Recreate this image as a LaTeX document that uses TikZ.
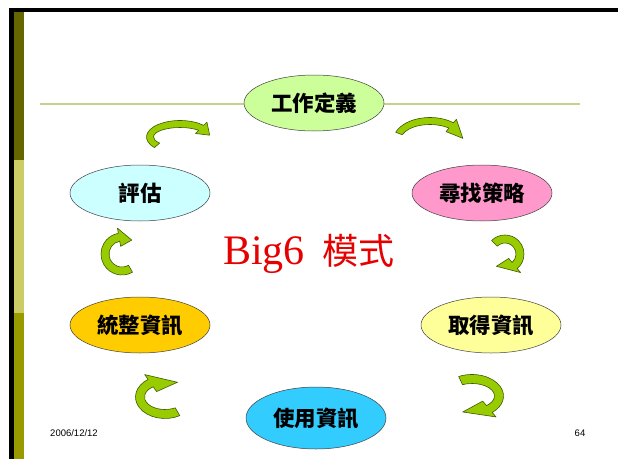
\documentclass[tikz,border=0pt]{standalone}
\usepackage{fontspec}
\usepackage{tikz}
\usetikzlibrary{shapes.geometric,positioning}
\setmainfont{Liberation Serif}
\newfontfamily\cjk{Noto Sans CJK TC}
\newfontfamily\foot{Liberation Sans}
\definecolor{barblack}{RGB}{0,0,0}
\definecolor{bardark}{RGB}{102,102,0}
\definecolor{barlight}{RGB}{204,204,102}
\definecolor{barolive}{RGB}{153,153,0}
\definecolor{rulegreen}{RGB}{200,208,140}
\definecolor{turnfill}{RGB}{153,204,0}
\definecolor{turnline}{RGB}{60,90,0}
\definecolor{bigred}{RGB}{230,0,0}
% center x, center y, x radius, y radius, start, end, tip, half band
\newcommand{\turnarrow}[8]{%
  \begin{scope}[shift={(#1,#2)}]
    \filldraw[turn] ({(#3+#8)*cos(#5)},{(#4+#8)*sin(#5)})
      arc[start angle=#5, end angle=#6, x radius=#3+#8, y radius=#4+#8]
      -- ({(#3+2.3*#8)*cos(#6)},{(#4+2.3*#8)*sin(#6)})
      -- ({#3*cos(#7)},{#4*sin(#7)})
      -- ({(#3-2.3*#8)*cos(#6)},{(#4-2.3*#8)*sin(#6)})
      -- ({(#3-#8)*cos(#6)},{(#4-#8)*sin(#6)})
      arc[start angle=#6, end angle=#5, x radius=#3-#8, y radius=#4-#8]
      -- cycle;
  \end{scope}}
\begin{document}
\begin{tikzpicture}[x=1pt,y=1pt]
\tikzstyle{stage}=[ellipse, draw=black!75, line width=0.5pt, minimum width=140pt, minimum height=56pt, inner sep=0pt, font=\cjk\bfseries\fontsize{21.5}{22}\selectfont]
\tikzstyle{turn}=[fill=turnfill, draw=turnline, line width=0.6pt, line join=round]
\useasboundingbox (0,0) rectangle (618,459);
\fill[white] (0,0) rectangle (618,459);
\fill[barblack] (10,447) rectangle (618,451);
\fill[barblack] (9,0) rectangle (14,451);
\fill[bardark] (14,299) rectangle (24,447);
\fill[barlight] (14,146) rectangle (24,299);
\fill[barolive] (14,0) rectangle (24,146);
\coordinate (ruleL) at (40,355);
\coordinate (ruleR) at (580,355);
\draw[rulegreen, line width=1.5pt] (ruleL) -- (ruleR);
\node[stage, fill={rgb,255:red,204;green,255;blue,153}] (define) at (314,356) {工作定義};
\node[stage, fill={rgb,255:red,255;green,153;blue,204}] (strategy) at (482,266) {尋找策略};
\node[stage, fill={rgb,255:red,255;green,255;blue,153}] (access) at (491,134) {取得資訊};
\node[stage, fill={rgb,255:red,51;green,204;blue,255}, minimum height=62pt] (use) at (316,41) {使用資訊};
\node[stage, fill={rgb,255:red,255;green,204;blue,0}] (synthesis) at (140,134) {統整資訊};
\node[stage, fill={rgb,255:red,204;green,255;blue,255}] (evaluate) at (140,266) {評估};
\node[text=bigred, inner sep=0pt] (title) at (309,205)
  {\fontsize{42}{42}\selectfont Big6\hspace{18pt}{\cjk\fontsize{36}{36}\selectfont 模式}};
\turnarrow{180}{322}{30}{13}{220}{45}{8}{3.5}
\turnarrow{430}{319}{33}{19}{160}{50}{5}{3.5}
\turnarrow{505}{205}{15}{15}{135}{-50}{-125}{4}
\turnarrow{472}{63}{27}{17}{115}{-50}{-110}{4.5}
\turnarrow{165}{62}{25}{17}{-60}{-235}{-300}{4.5}
\turnarrow{122}{205}{17}{17}{-60}{-260}{-305}{4}
\node[font=\foot\fontsize{9.5}{10}\selectfont, inner sep=0pt] (date) at (74,26) {2006/12/12};
\node[font=\foot\fontsize{9.5}{10}\selectfont, inner sep=0pt] (page) at (580,26) {64};
\end{tikzpicture}
\end{document}
